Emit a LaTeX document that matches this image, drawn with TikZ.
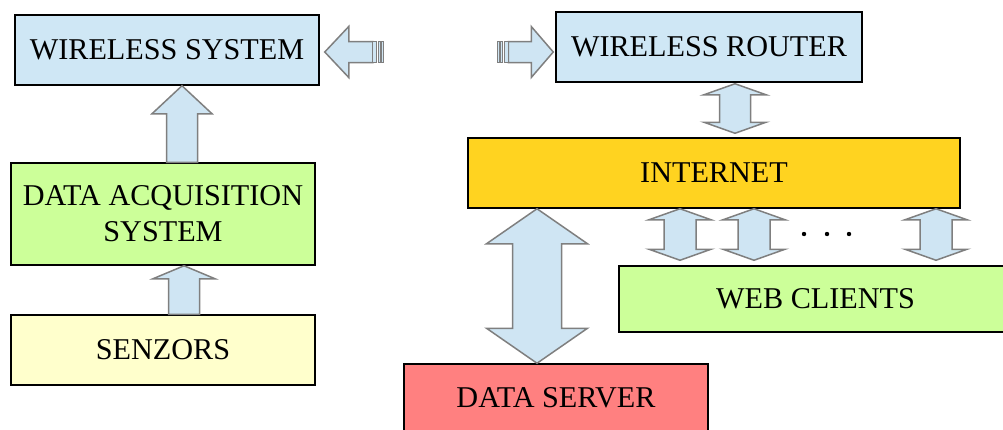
\documentclass[tikz,border=0pt]{standalone}
\usepackage{fontspec}
\setmainfont{Liberation Serif}
\usetikzlibrary{calc}
\definecolor{boxblue}{HTML}{CFE7F5}
\definecolor{arrblue}{HTML}{CFE5F3}
\definecolor{arrgray}{HTML}{7F7F7F}
\definecolor{netyellow}{HTML}{FFD320}
\definecolor{boxgreen}{HTML}{CCFF99}
\definecolor{boxcream}{HTML}{FFFFCC}
\definecolor{boxred}{HTML}{FF8080}
\tikzset{
  box/.style={draw=black, line width=1.5pt, inner sep=0pt, align=center,
    font=\fontsize{30.2}{36}\selectfont},
  blk/.style={draw=arrgray, fill=arrblue, line width=1.5pt, line join=miter},
  stripe/.style={draw=arrgray, fill=arrblue, line width=1pt}
}
% vertical double block arrow: #1 top tip, #2 bottom tip, #3 shaft half, #4 head half, #5 head length
\newcommand\vdoubleblk[5]{%
  \filldraw[blk] let \p1=(#1), \p2=(#2) in
   (\x1,\y1) -- (\x1+#4pt,\y1-#5pt) -- (\x1+#3pt,\y1-#5pt) -- (\x1+#3pt,\y2+#5pt)
   -- (\x1+#4pt,\y2+#5pt) -- (\x1,\y2) -- (\x1-#4pt,\y2+#5pt) -- (\x1-#3pt,\y2+#5pt)
   -- (\x1-#3pt,\y1-#5pt) -- (\x1-#4pt,\y1-#5pt) -- cycle;}
% vertical single (up) block arrow: #1 top tip, #2 bottom, #3 shaft half, #4 head half, #5 head length
\newcommand\vsingleblk[5]{%
  \filldraw[blk] let \p1=(#1), \p2=(#2) in
   (\x1,\y1) -- (\x1+#4pt,\y1-#5pt) -- (\x1+#3pt,\y1-#5pt) -- (\x1+#3pt,\y2)
   -- (\x1-#3pt,\y2) -- (\x1-#3pt,\y1-#5pt) -- (\x1-#4pt,\y1-#5pt) -- cycle;}
\begin{document}
\begin{tikzpicture}[x=1pt,y=-1pt]
\useasboundingbox (0,0) rectangle (1003,429);

% boxes
\node[box, fill=boxblue, minimum width=304pt, minimum height=70pt] (ws) at (167,50) {WIRELESS SYSTEM};
\node[box, fill=boxblue, minimum width=306pt, minimum height=70pt] (router) at (709,47) {WIRELESS ROUTER};
\node[box, fill=netyellow, minimum width=492pt, minimum height=70pt] (internet) at (714,173) {INTERNET};
\node[box, fill=boxgreen, minimum width=304pt, minimum height=102pt] (daq) at (163,214) {DATA ACQUISITION\\SYSTEM};
\node[box, fill=boxcream, minimum width=304pt, minimum height=70pt] (senz) at (163,350) {SENZORS};
\node[box, fill=boxgreen, minimum width=393pt, minimum height=66pt] (web) at (815.5,299) {WEB CLIENTS};
\node[box, fill=boxred, minimum width=304pt, minimum height=68pt] (server) at (556,398) {DATA SERVER};

% single up arrows
\coordinate (a1t) at ($(ws.south)+(15,0)$);
\coordinate (a1b) at ($(daq.north)+(19,0)$);
\vsingleblk{a1t}{a1b}{15.5}{30}{28}
\coordinate (a2t) at ($(daq.south)+(21,0)$);
\coordinate (a2b) at ($(senz.north)+(21,0)$);
\vsingleblk{a2t}{a2b}{15.5}{31}{13}

% router <-> internet
\coordinate (r1t) at ($(router.south)+(26,1)$);
\coordinate (r1b) at ($(internet.north)+(21,-4)$);
\vdoubleblk{r1t}{r1b}{15.5}{31}{11}

% internet <-> server
\coordinate (s1t) at ($(internet.south)+(-177,0)$);
\coordinate (s1b) at ($(server.north)+(-19,0)$);
\vdoubleblk{s1t}{s1b}{24.5}{50.5}{35}

% internet <-> web clients
\coordinate (w1t) at ($(internet.south)+(-34,0)$);
\coordinate (w1b) at ($(web.north)+(-135.5,-5)$);
\vdoubleblk{w1t}{w1b}{16}{31}{11}
\coordinate (w2t) at ($(internet.south)+(40,0)$);
\coordinate (w2b) at ($(web.north)+(-61.5,-5)$);
\vdoubleblk{w2t}{w2b}{16}{31}{11}
\coordinate (w3t) at ($(internet.south)+(222,0)$);
\coordinate (w3b) at ($(web.north)+(120.5,-5)$);
\vdoubleblk{w3t}{w3b}{16}{31}{11}

% dots
\fill (804,234) circle (2.2);
\fill (827,234) circle (2.2);
\fill (849,234) circle (2.2);

% striped left arrow towards wireless system
\coordinate (lt) at ($(ws.east)+(5,2)$);
\filldraw[blk] (lt) -- ++(24,-25.5) -- ++(0,15) -- ++(24,0) -- ++(0,21) -- ++(-24,0) -- ++(0,15) -- cycle;
\filldraw[stripe] ($(lt)+(48,-10.5)$) rectangle ++(4,21);
\filldraw[stripe] ($(lt)+(53.5,-10.5)$) rectangle ++(2,21);
\filldraw[stripe] ($(lt)+(57,-10.5)$) rectangle ++(2,21);

% striped right arrow towards wireless router
\coordinate (rt) at ($(router.west)+(-2,5)$);
\filldraw[blk] (rt) -- ++(-22,-25.5) -- ++(0,15) -- ++(-23,0) -- ++(0,21) -- ++(23,0) -- ++(0,15) -- cycle;
\filldraw[stripe] ($(rt)+(-49,-10.5)$) rectangle ++(4,21);
\filldraw[stripe] ($(rt)+(-52.5,-10.5)$) rectangle ++(2,21);
\filldraw[stripe] ($(rt)+(-56,-10.5)$) rectangle ++(2,21);
\end{tikzpicture}
\end{document}
